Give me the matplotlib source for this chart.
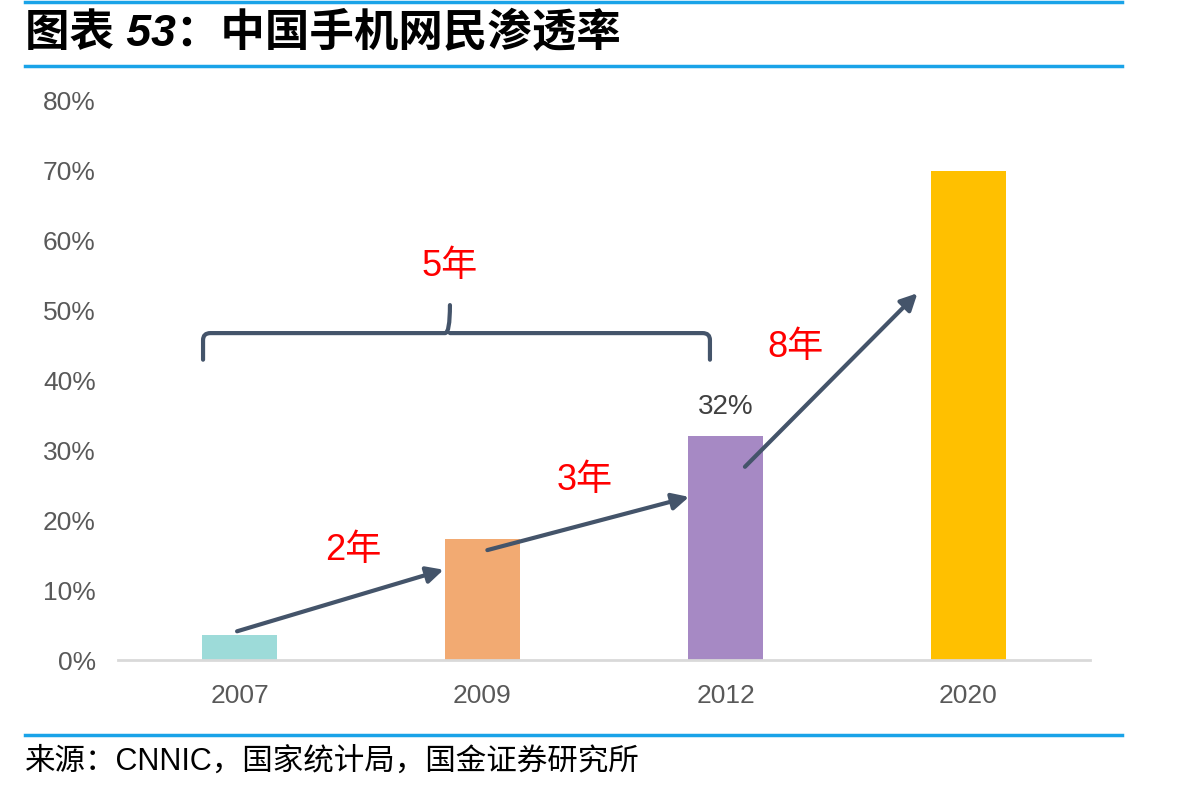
import matplotlib
matplotlib.use("Agg")
import matplotlib.pyplot as plt
from matplotlib.path import Path
from matplotlib.patches import PathPatch
from matplotlib.lines import Line2D

plt.rcParams['font.family'] = ['Liberation Sans', 'Noto Sans CJK SC', 'DejaVu Sans']

# ---- data ----
years = ["2007", "2009", "2012", "2020"]
penetration = [3.6, 17.3, 32.0, 69.9]
bar_colors = ["#9DDBD9", "#F2AA72", "#A689C4", "#FFC000"]
yticks = [0, 10, 20, 30, 40, 50, 60, 70, 80]
ytick_labels = [f"{v}%" for v in yticks]
gap_labels = ["2年", "3年", "8年"]
span_label = "5年"
value_label = "32%"
title = "图表 53：中国手机网民渗透率"
source = "来源：CNNIC，国家统计局，国金证券研究所"

W, H = 1204, 791
fig = plt.figure(figsize=(W / 100, H / 100), dpi=100)
ax = fig.add_axes([118 / W, 1 - 660 / H, (1090 - 118) / W, (660 - 100) / H])

x = list(range(len(years)))
ax.bar(x, penetration, width=0.31, color=bar_colors, zorder=2)
ax.set_xlim(-0.5, 3.5)
ax.set_ylim(0, 80)
ax.set_yticks(yticks)
ax.set_yticklabels(ytick_labels)
ax.set_xticks(x)
ax.set_xticklabels(years)
ax.tick_params(axis='both', length=0, labelsize=19, labelcolor="#595959")
ax.tick_params(axis='y', pad=16)
ax.tick_params(axis='x', pad=17)
for s in ["top", "right", "left"]:
    ax.spines[s].set_visible(False)
ax.spines["bottom"].set_color("#D9D9D9")
ax.spines["bottom"].set_linewidth(2)

arrow_color = "#44546A"
# arrows between bars (annotation positions)
arrows = [((-0.01, 4.1), (0.84, 12.9)),
          ((1.02, 15.7), (1.85, 23.3)),
          ((2.08, 27.6), (2.79, 52.4))]
for (s, e) in arrows:
    ax.annotate("", xy=e, xytext=s,
                arrowprops=dict(arrowstyle="-|>,head_length=1.0,head_width=0.5",
                                color=arrow_color, lw=3, shrinkA=0, shrinkB=0),
                zorder=4)

label_pos = [(0.47, 15.7), (1.42, 25.6), (2.29, 44.7)]
for t, (lx, ly) in zip(gap_labels, label_pos):
    ax.text(lx, ly, t, color="#FF0000", fontsize=26, ha="center", va="center",
            family=['Liberation Sans', 'Noto Sans CJK SC'])

ax.text(0.866, 56.2, span_label, color="#FF0000", fontsize=26, ha="center", va="center",
        family=['Liberation Sans', 'Noto Sans CJK SC'])

ax.text(2, penetration[2] + 2.3, value_label, color="#404040", fontsize=20,
        ha="center", va="bottom")

# brace
xl, xr, xm = -0.15, 1.936, 0.866
yb, ye, yt = 46.7, 42.9, 50.7
r = 0.03
verts = [(xl, ye), (xl, yb - 1.0), (xl, yb), (xl + r, yb),
         (xm - 0.02, yb), (xm, yb), (xm, yt),
         (xm, yb), (xm + 0.02, yb),
         (xr - r, yb), (xr, yb), (xr, yb - 1.0), (xr, ye)]
codes = [Path.MOVETO, Path.LINETO, Path.CURVE3, Path.CURVE3,
         Path.LINETO, Path.CURVE3, Path.CURVE3,
         Path.MOVETO, Path.CURVE3,
         Path.LINETO, Path.CURVE3, Path.CURVE3, Path.LINETO]
ax.add_patch(PathPatch(Path(verts, codes), fill=False, edgecolor=arrow_color,
                       lw=3, capstyle='round', joinstyle='round', zorder=4))

# header/footer
blue = "#1AA3E8"
for yy in [2, 66, 735]:
    fig.add_artist(Line2D([25 / W, 1122 / W], [1 - yy / H, 1 - yy / H],
                          color=blue, lw=2.5))
fig.text(25 / W, 1 - 33 / H, title, fontsize=32, fontweight="bold", fontstyle="italic",
         ha="left", va="center", family=['Liberation Sans', 'Noto Sans CJK SC'])
fig.text(25 / W, 1 - 762 / H, source, fontsize=22, ha="left", va="center",
         family=['Liberation Sans', 'Noto Sans CJK SC'])

fig.savefig("out.png", dpi=100)
